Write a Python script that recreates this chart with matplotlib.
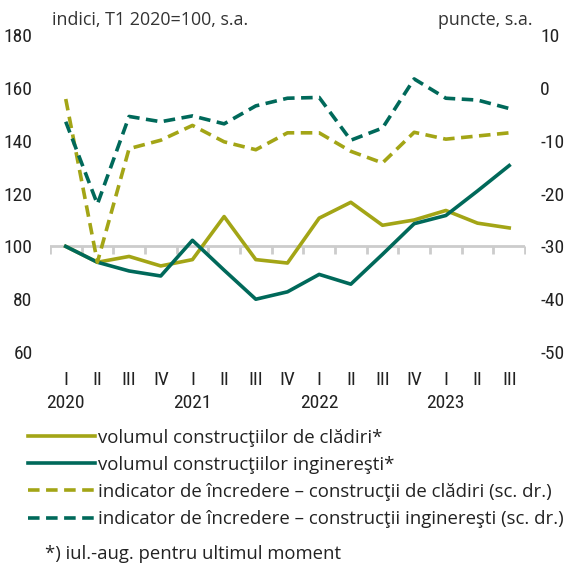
import matplotlib
matplotlib.use("Agg")
import matplotlib.pyplot as plt
import matplotlib.transforms as mtransforms
from matplotlib.lines import Line2D
from matplotlib.ticker import FuncFormatter
import logging
logging.getLogger("matplotlib.font_manager").setLevel(logging.ERROR)

quarters = ["I", "II", "III", "IV", "I", "II", "III", "IV", "I", "II", "III", "IV", "I", "II", "III"]
years = ["2020", "2021", "2022", "2023"]
year_pos = [0, 4, 8, 12]

vol_cladiri = [100, 94, 96.2, 92.6, 95, 111.3, 95, 93.7, 110.7, 116.7, 108, 110, 113.6, 108.8, 107]
vol_inginer = [100, 94, 90.7, 88.8, 102.3, 91, 80, 82.8, 89.4, 85.7, 97, 108.6, 111.7, 121, 130.6]
incr_cladiri = [-2.1, -33, -11.5, -9.9, -7.1, -10.2, -11.7, -8.5, -8.5, -12, -14.2, -8.4, -9.7, -9.1, -8.5]
incr_inginer = [-6.4, -22, -5.4, -6.4, -5.3, -6.8, -3.4, -1.95, -1.8, -9.9, -7.6, 1.7, -1.95, -2.3, -3.9]

left_ticks = [60, 80, 100, 120, 140, 160, 180]
right_ticks = [-50, -40, -30, -20, -10, 0, 10]

labels = ["volumul construcţiilor de clădiri*",
          "volumul construcţiilor inginereşti*",
          "indicator de încredere – construcţii de clădiri (sc. dr.)",
          "indicator de încredere – construcţii inginereşti (sc. dr.)"]

OLIVE = "#a3a516"
TEAL = "#00695a"
TXT = "#222222"
NARROW = ["Roboto Condensed", "Liberation Sans Narrow", "DejaVu Sans"]
MAIN = ["Open Sans", "DejaVu Sans"]

fig = plt.figure(figsize=(5.67, 5.66), dpi=100)
ax = fig.add_axes([0.088, 0.378, 0.838, 0.56])
ax2 = ax.twinx()

x = list(range(len(quarters)))
lw = 2.6
dash = (0, (3.2, 1.8))
ax.plot(x, vol_cladiri, color=OLIVE, lw=lw, zorder=3)
ax.plot(x, vol_inginer, color=TEAL, lw=lw, zorder=3)
ax2.plot(x, incr_cladiri, color=OLIVE, lw=lw, ls=dash, zorder=3)
ax2.plot(x, incr_inginer, color=TEAL, lw=lw, ls=dash, zorder=3)

ax.set_xlim(-0.5, len(quarters) - 0.5)
ax.set_ylim(60, 180)
ax2.set_ylim(-50, 10)
ax.set_yticks(left_ticks)
ax2.set_yticks(right_ticks)
fmt = FuncFormatter(lambda v, p: "%d" % v)
ax.yaxis.set_major_formatter(fmt)
ax2.yaxis.set_major_formatter(fmt)

for a in (ax, ax2):
    for s in a.spines.values():
        s.set_visible(False)
    a.tick_params(axis="y", length=0)
    a.set_xticks([])

ax.tick_params(axis="y", labelsize=14, pad=12.5, labelcolor=TXT)
ax2.tick_params(axis="y", labelsize=14, pad=11, labelcolor=TXT)
for lab in ax.get_yticklabels() + ax2.get_yticklabels():
    lab.set_family(NARROW)

# baseline at 100 with boundary ticks
ax.axhline(100, color="#cccccc", lw=2, zorder=1)
ax.plot([i - 0.5 for i in range(len(quarters) + 1)], [100] * (len(quarters) + 1),
        ls="none", marker=3, markersize=6, mew=2, color="#cccccc", zorder=1)

trans = mtransforms.blended_transform_factory(ax.transData, ax.transAxes)
for i, q in enumerate(quarters):
    ax.text(i, -0.088, q, transform=trans, ha="center", va="center",
            fontsize=14, family=NARROW, color=TXT)
for p, yr in zip(year_pos, years):
    ax.text(p, -0.162, yr, transform=trans, ha="center", va="center",
            fontsize=14, family=NARROW, color=TXT)

fig.text(52 / 567, 1 - 20 / 566, "indici, T1 2020=100, s.a.", ha="left", va="center",
         fontsize=12.9, family=MAIN, color="#333333")
fig.text(532 / 567, 1 - 20 / 566, "puncte, s.a.", ha="right", va="center",
         fontsize=12.9, family=MAIN, color="#333333")

handles = [Line2D([], [], color=OLIVE, lw=lw),
           Line2D([], [], color=TEAL, lw=lw),
           Line2D([], [], color=OLIVE, lw=lw, ls=dash),
           Line2D([], [], color=TEAL, lw=lw, ls=dash)]
leg = fig.legend(handles, labels, loc="upper left", bbox_to_anchor=(24 / 567, 1 - 425 / 566),
                 frameon=False, handlelength=3.6, handletextpad=0.15, labelspacing=0.49,
                 prop={"family": MAIN, "size": 13.4}, borderaxespad=0, borderpad=0.2)
for t in leg.get_texts():
    t.set_color(TXT)

fig.text(45 / 567, 1 - 554 / 566, "*) iul.-aug. pentru ultimul moment", ha="left", va="center",
         fontsize=13.3, family=MAIN, color=TXT)

fig.savefig("out.png", dpi=100)
